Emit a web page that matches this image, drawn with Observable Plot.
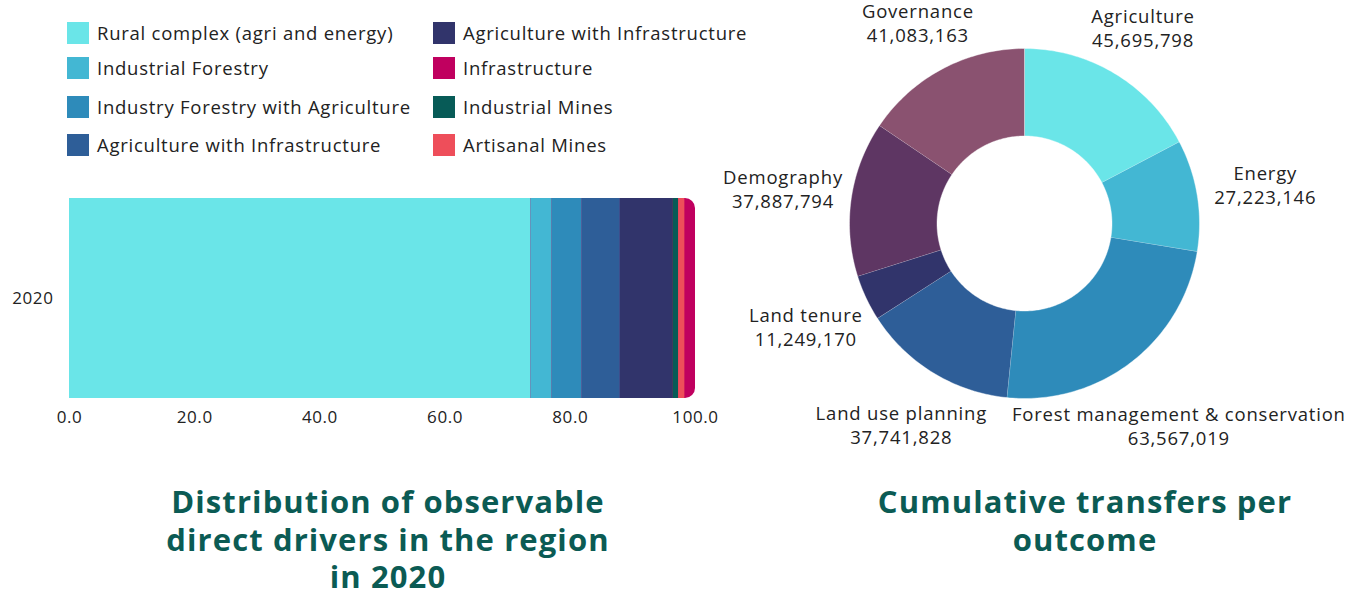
<!DOCTYPE html>
<html>
<head>
<meta charset="utf-8">
<script src="https://cdn.jsdelivr.net/npm/d3@7"></script>
<script src="https://cdn.jsdelivr.net/npm/@observablehq/plot@0.6"></script>
<style>
  html, body { margin: 0; padding: 0; background: #fff; }
  body { width: 1362px; height: 595px; position: relative; overflow: hidden; font-family: "Open Sans", sans-serif; color: #222; }
  #legend { position: absolute; left: 67px; top: 20px; width: 700px; height: 150px; }
  .item { position: absolute; display: flex; align-items: center; font-size: 18.5px; letter-spacing: 0.75px; white-space: nowrap; }
  .sw { width: 22px; height: 22px; margin-right: 8px; flex: none; }
  #bar { position: absolute; left: 0; top: 180px; }
  #donut { position: absolute; left: 690px; top: 0; }
  .title { position: absolute; font-weight: 700; color: #0B5B54; font-size: 31px; letter-spacing: 1.1px; line-height: 37.5px; text-align: center; }
</style>
</head>
<body>
<div id="legend"></div>
<div id="bar"></div>
<div id="donut"></div>
<div class="title" style="left:88px; width:600px; top:483px;">Distribution of observable<br>direct drivers in the region<br>in 2020</div>
<div class="title" style="left:785px; width:600px; top:483px;">Cumulative transfers per<br>outcome</div>
<script>
// ---------- Data: bar chart (share of observable direct drivers, %) ----------
const year = "2020";
const driverNames = [
  "Rural complex (agri and energy)",
  "Industrial Forestry",
  "Industry Forestry with Agriculture",
  "Agriculture with Infrastructure",
  "Agriculture with Infrastructure",
  "Industrial Mines",
  "Artisanal Mines",
  "Infrastructure"
];
const driverShares = [73.7, 3.4, 4.8, 6.1, 8.4, 0.9, 1.0, 1.7];
const driverColors = ["#6AE5E8", "#43B7D3", "#2E8BBA", "#2E5E98", "#31346B", "#075B57", "#EE4E5A", "#C0005F"];
const xTicks = [0, 20, 40, 60, 80, 100];
// legend order (indices into driverNames), column by column
const legendOrder = [0, 1, 2, 3, 4, 7, 5, 6];

// ---------- Data: donut (cumulative transfers per outcome) ----------
const outcomes = ["Agriculture", "Energy", "Forest management & conservation", "Land use planning", "Land tenure", "Demography", "Governance"];
const transfers = [45695798, 27223146, 63567019, 37741828, 11249170, 37887794, 41083163];
const outcomeColors = ["#6AE5E8", "#43B7D3", "#2E8BBA", "#2E5E98", "#31346B", "#5E3663", "#8A5270"];

// ---------- Legend ----------
const legend = document.getElementById("legend");
const rowTops = [0, 35, 74, 112];
legendOrder.forEach((idx, k) => {
  const col = Math.floor(k / 4), row = k % 4;
  const el = document.createElement("div");
  el.className = "item";
  el.style.left = (col * 366) + "px";
  el.style.top = rowTops[row] + "px";
  el.innerHTML = `<span class="sw" style="background:${driverColors[idx]}"></span><span>${driverNames[idx]}</span>`;
  legend.appendChild(el);
});

// ---------- Bar chart ----------
const drivers = driverNames.map((name, i) => ({id: i, name, year, value: driverShares[i]}));
const last = drivers[drivers.length - 1];
const total = d3.sum(drivers, d => d.value);

const bar = Plot.plot({
  width: 730,
  height: 260,
  marginLeft: 69,
  marginRight: 35,
  marginTop: 18,
  marginBottom: 42,
  style: {fontFamily: "Open Sans, sans-serif", fontSize: "17px", letterSpacing: "0.6px", color: "#222", background: "transparent"},
  x: {domain: [0, 100], ticks: xTicks, tickFormat: d3.format(".1f"), tickSize: 0, tickPadding: 12, label: null},
  y: {domain: [year], padding: 0, tickSize: 0, tickPadding: 16, label: null},
  color: {domain: drivers.map(d => d.id), range: driverColors},
  marks: [
    // rounded full-length bar in the colour of the last segment (gives the rounded right end)
    Plot.barX([{year, x1: 0, x2: total, id: last.id}], {x1: "x1", x2: "x2", y: "year", fill: "id", rx: 10}),
    Plot.barX(drivers.slice(0, -1), Plot.stackX({x: "value", y: "year", fill: "id", order: null}))
  ]
});
document.getElementById("bar").appendChild(bar);

// ---------- Donut ----------
const pie = d3.pie().sort(null).value(d => d)(transfers);
const inner = 0.5;
const slicePts = [];
pie.forEach((p, i) => {
  const n = Math.max(2, Math.ceil((p.endAngle - p.startAngle) / (Math.PI / 180)));
  for (let k = 0; k <= n; k++) {
    const a = p.startAngle + (p.endAngle - p.startAngle) * k / n;
    slicePts.push({id: i, x: Math.sin(a), y: Math.cos(a)});
  }
  for (let k = n; k >= 0; k--) {
    const a = p.startAngle + (p.endAngle - p.startAngle) * k / n;
    slicePts.push({id: i, x: inner * Math.sin(a), y: inner * Math.cos(a)});
  }
});
const cx = 334, cy = 223, R = 175;
// label distance grows with the text's width and towards the sides of the ring
const labels = pie.map((p, i) => {
  const a = (p.startAngle + p.endAngle) / 2;
  const valueText = d3.format(",")(transfers[i]);
  const w = Math.max(outcomes[i].length, valueText.length) * 10.5;
  const r = (212 + 0.1 * w + 22 * Math.sin(a) ** 2) / R;
  return {x: r * Math.sin(a), y: r * Math.cos(a), text: outcomes[i] + "\n" + valueText};
});

const donut = Plot.plot({
  width: 672,
  height: 460,
  margin: 0,
  style: {fontFamily: "Open Sans, sans-serif", fontSize: "18px", letterSpacing: "0.8px", color: "#222", background: "transparent"},
  x: {domain: [-1, 1], range: [cx - R, cx + R], axis: null},
  y: {domain: [-1, 1], range: [cy + R, cy - R], axis: null},
  color: {domain: outcomes.map((d, i) => i), range: outcomeColors},
  marks: [
    Plot.line(slicePts, {x: "x", y: "y", z: "id", fill: "id", stroke: "white", strokeWidth: 0.4, curve: "linear"}),
    Plot.text(labels, {x: "x", y: "y", text: "text", fontSize: 18.5, lineHeight: 1.3, fill: "#222"})
  ]
});
document.getElementById("donut").appendChild(donut);
</script>
</body>
</html>
